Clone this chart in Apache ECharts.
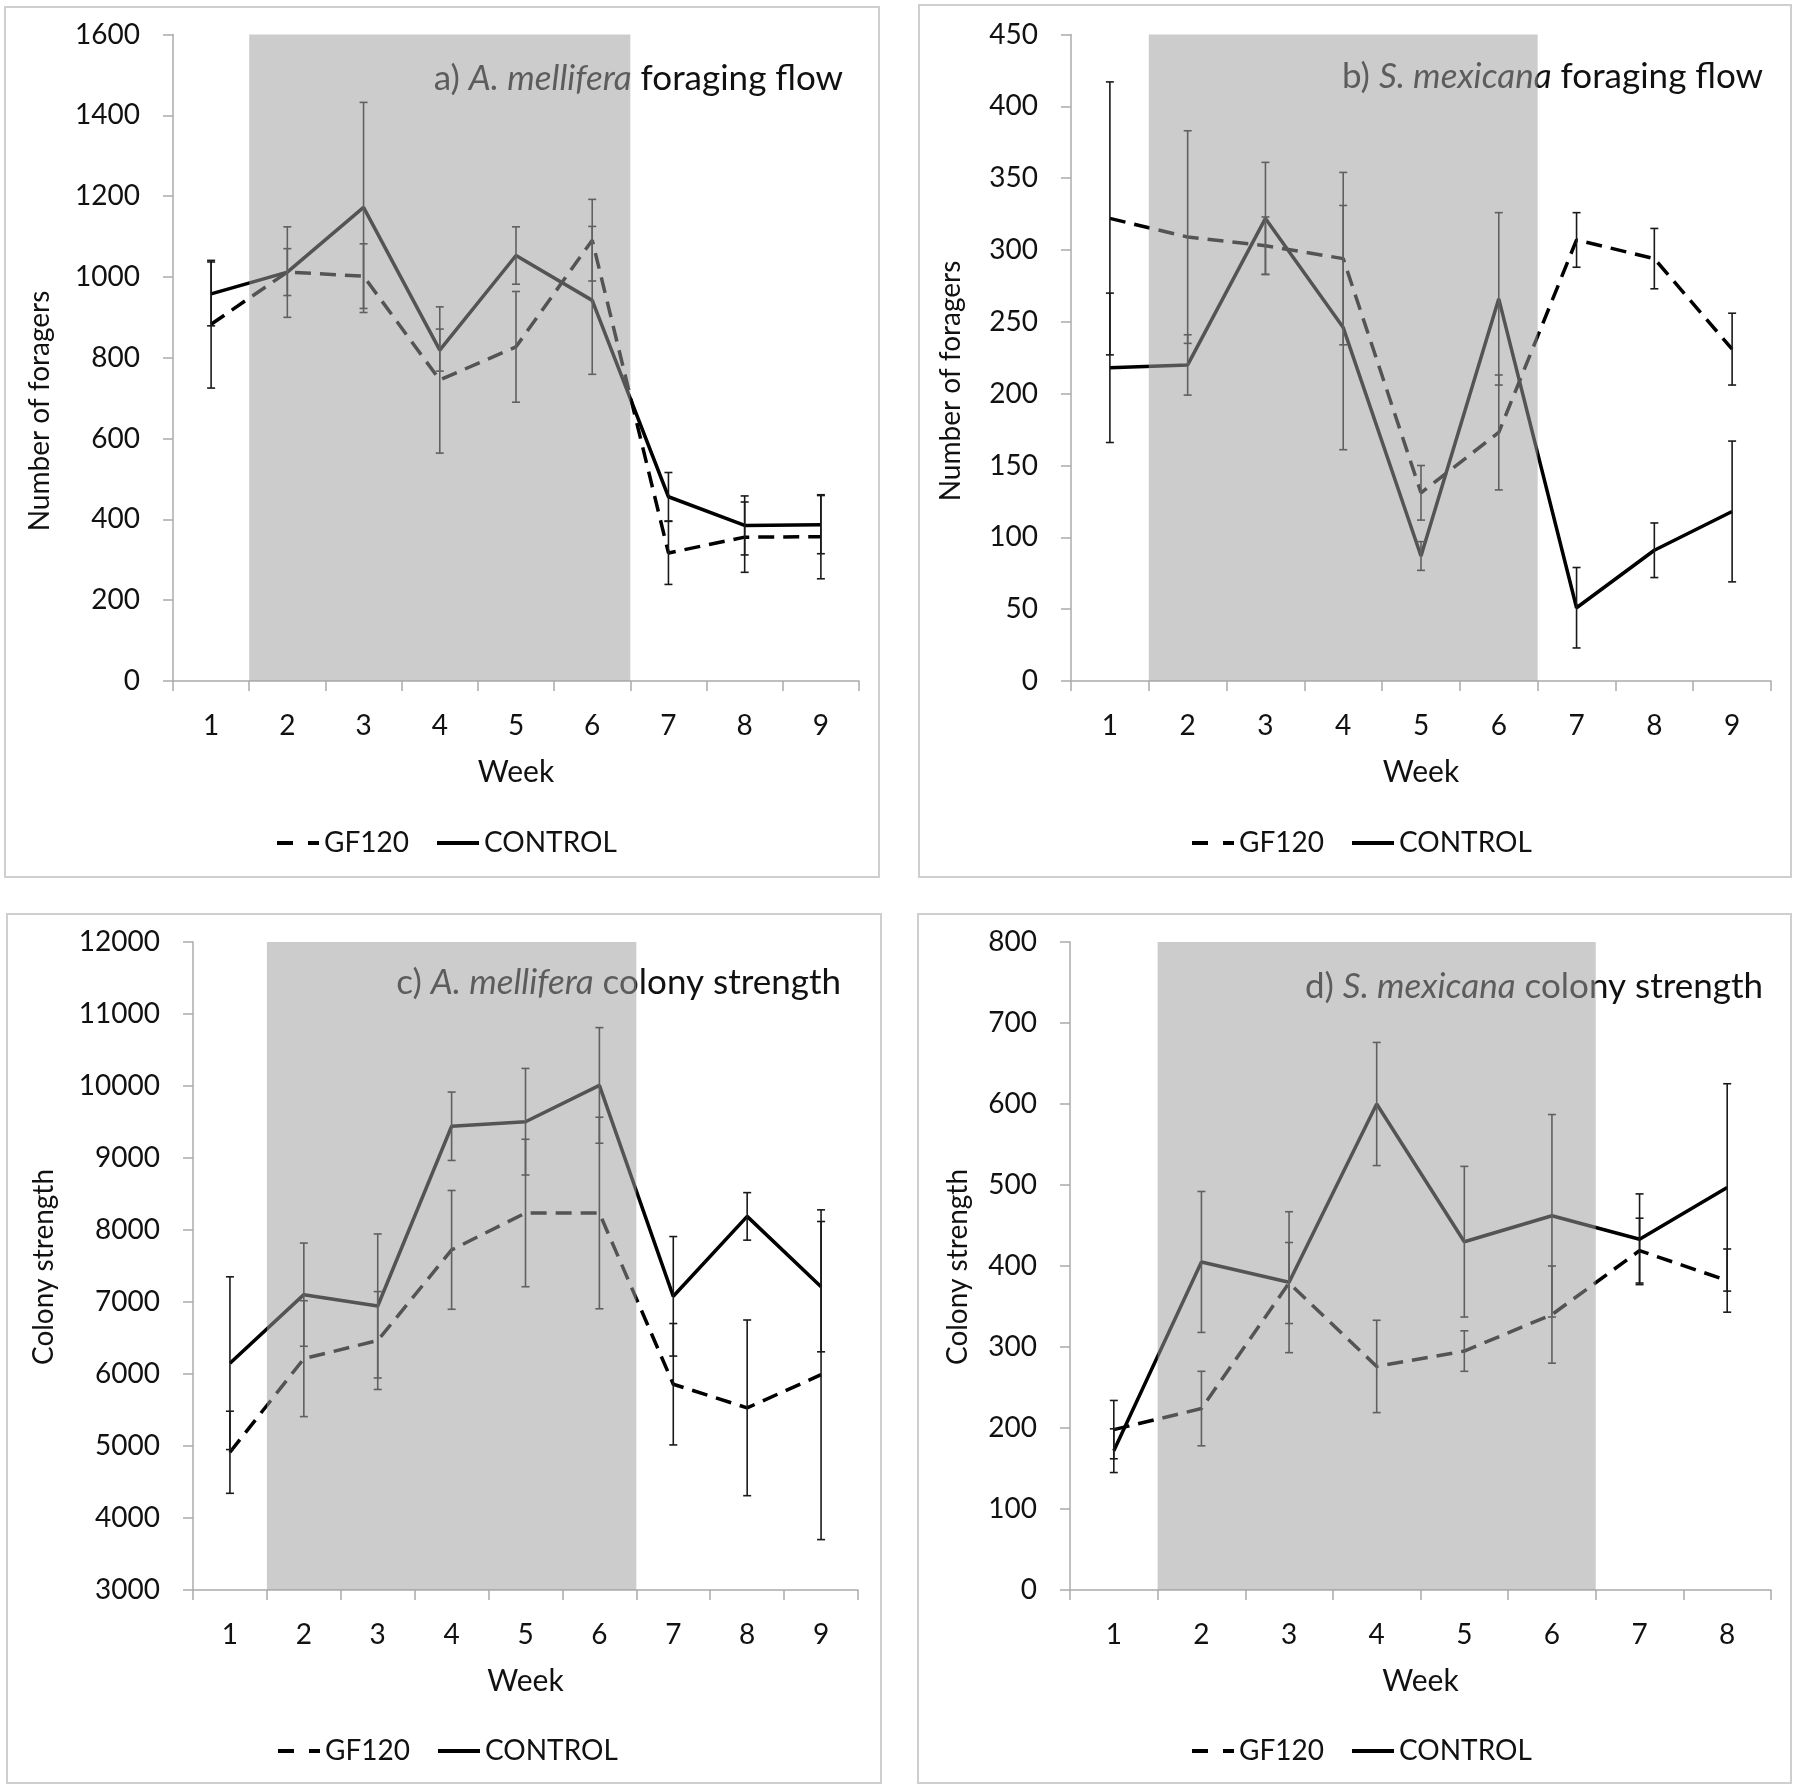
<!DOCTYPE html>
<html>
<head>
<meta charset="utf-8">
<script src="https://cdn.jsdelivr.net/npm/echarts@6/dist/echarts.min.js"></script>
<style>
html,body{margin:0;padding:0;background:#fff;}
#chart{width:1797px;height:1790px;}
</style>
</head>
<body>
<div id="chart"></div>
<script>
// ---------- DATA ----------
const weeks9 = ['1','2','3','4','5','6','7','8','9'];
const weeks8 = ['1','2','3','4','5','6','7','8'];
const seriesNames = ['GF120', 'CONTROL'];
const shadedWeeks = ['2', '6'];   // first and last week of the shaded (treatment) period

// a) A. mellifera foraging flow
const aGF120 = [883, 1012, 1002, 745, 827, 1091, 317, 356, 357];
const aGF120Err = [158, 58, 80, 181, 137, 101, 78, 87, 104];
const aControl = [958, 1012, 1172, 819, 1053, 942, 456, 385, 387];
const aControlErr = [79, 112, 260, 52, 71, 183, 60, 73, 72];

// b) S. mexicana foraging flow
const bGF120 = [322, 309, 303, 294, 131, 173, 307, 294, 231];
const bGF120Err = [95, 74, 20, 60, 19, 40, 19, 21, 25];
const bControl = [218, 220, 322, 246, 87, 266, 51, 91, 118];
const bControlErr = [52, 21, 39, 85, 10, 60, 28, 19, 49];

// c) A. mellifera colony strength
const cGF120 = [4913, 6213, 6465, 7724, 8236, 8236, 5858, 5530, 5990];
const cGF120Err = [570, 805, 680, 825, 1024, 1330, 843, 1220, 2290];
const cControl = [6150, 7102, 6945, 9441, 9504, 10008, 7079, 8189, 7213];
const cControlErr = [1200, 717, 1000, 475, 740, 803, 830, 330, 905];

// d) S. mexicana colony strength
const dGF120 = [198, 224, 379, 276, 295, 340, 419, 382];
const dGF120Err = [36, 46, 50, 57, 25, 60, 40, 39];
const dControl = [172, 405, 380, 600, 430, 462, 433, 497];
const dControlErr = [27, 87, 87, 76, 93, 125, 56, 128];

// axis settings
const yRanges = [[0, 1600, 200], [0, 450, 50], [3000, 12000, 1000], [0, 800, 100]];
const yNames = ['Number of foragers', 'Number of foragers', 'Colony strength', 'Colony strength'];
const xName = 'Week';
const titleParts = [
  ['a) ', 'A. mellifera', ' foraging flow'],
  ['b) ', 'S. mexicana', ' foraging flow'],
  ['c) ', 'A. mellifera', ' colony strength'],
  ['d) ', 'S. mexicana', ' colony strength']
];

// ---------- LAYOUT ----------
const FONT = 'Lato';
const TXT = '#111';
const AXIS = '#ababab';
const grids = [
  {left: 173, top: 34.5, width: 686, height: 646.5},
  {left: 1071, top: 34.5, width: 700, height: 646.5},
  {left: 193, top: 942, width: 665, height: 648},
  {left: 1070, top: 942, width: 701, height: 648}
];
const panelBoxes = [
  [5, 7, 874, 870], [919, 5, 872, 872], [7, 914, 874, 869], [918, 914, 873, 869]
];
const yNamePos = [[40, 411], [951, 381], [43.5, 1267], [958, 1267]];
const titlePos = [[843, 79], [1763, 77], [841, 983], [1763, 987]];
const legendPos = [[277, 829], [1192, 829], [278, 1737], [1192, 1737]];
const legendIcons = ['path://M0,0H16V4H0ZM31,0H42V4H31Z', 'path://M0,0H42V4H0Z'];

const panels = [
  {cats: weeks9, gf: aGF120, gfe: aGF120Err, c: aControl, ce: aControlErr},
  {cats: weeks9, gf: bGF120, gfe: bGF120Err, c: bControl, ce: bControlErr},
  {cats: weeks9, gf: cGF120, gfe: cGF120Err, c: cControl, ce: cControlErr},
  {cats: weeks8, gf: dGF120, gfe: dGF120Err, c: dControl, ce: dControlErr}
];

function errRender(params, api) {
  const x = api.value(0), v = api.value(1), e = api.value(2);
  const t = api.coord([x, v + e]);
  const b = api.coord([x, v - e]);
  const cw = 4;
  const st = {stroke: '#1a1a1a', lineWidth: 1.6};
  return {type: 'group', children: [
    {type: 'line', shape: {x1: t[0], y1: t[1], x2: b[0], y2: b[1]}, style: st},
    {type: 'line', shape: {x1: t[0] - cw, y1: t[1], x2: t[0] + cw, y2: t[1]}, style: st},
    {type: 'line', shape: {x1: b[0] - cw, y1: b[1], x2: b[0] + cw, y2: b[1]}, style: st}
  ]};
}

function shadeRender(params, api) {
  const cs = params.coordSys;
  const s = api.value(0), e = api.value(1);
  const bw = api.size([1, 0])[0];
  const x1 = api.coord([s, 0])[0] - bw / 2;
  const x2 = api.coord([e, 0])[0] + bw / 2;
  return {type: 'rect', shape: {x: x1, y: cs.y, width: x2 - x1, height: cs.height},
          style: {fill: 'rgba(159,159,159,0.53)'}};
}

const xAxis = [], yAxis = [], series = [], legend = [], graphic = [];
panels.forEach((p, k) => {
  xAxis.push({
    type: 'category', gridIndex: k, data: p.cats, boundaryGap: true,
    name: xName, nameLocation: 'middle', nameGap: 76,
    nameTextStyle: {fontFamily: FONT, fontSize: 30, color: TXT},
    axisLine: {lineStyle: {color: AXIS, width: 1.5}},
    axisTick: {show: true, length: 10, lineStyle: {color: AXIS, width: 1.5}},
    axisLabel: {margin: 31, fontFamily: FONT, fontSize: 28, color: TXT},
    splitLine: {show: false}
  });
  const r = yRanges[k];
  yAxis.push({
    type: 'value', gridIndex: k, min: r[0], max: r[1], interval: r[2],
    axisLine: {show: true, lineStyle: {color: AXIS, width: 1.5}},
    axisTick: {show: true, length: 10, lineStyle: {color: AXIS, width: 1.5}},
    axisLabel: {margin: 33, fontFamily: FONT, fontSize: 28, color: TXT,
                formatter: function (v) { return String(v); }},
    splitLine: {show: false}
  });
  series.push({
    type: 'line', name: seriesNames[0], xAxisIndex: k, yAxisIndex: k, data: p.gf,
    symbol: 'none', z: 2,
    lineStyle: {color: '#000', width: 3.5, type: [16, 9]}, itemStyle: {color: '#000'}
  });
  series.push({
    type: 'line', name: seriesNames[1], xAxisIndex: k, yAxisIndex: k, data: p.c,
    symbol: 'none', z: 2,
    lineStyle: {color: '#000', width: 3.5, type: 'solid'}, itemStyle: {color: '#000'}
  });
  series.push({
    type: 'custom', name: 'errGF' + k, xAxisIndex: k, yAxisIndex: k, z: 3, silent: true,
    data: p.gf.map((v, i) => [i, v, p.gfe[i]]), encode: {x: 0, y: 1},
    renderItem: errRender
  });
  series.push({
    type: 'custom', name: 'errC' + k, xAxisIndex: k, yAxisIndex: k, z: 3, silent: true,
    data: p.c.map((v, i) => [i, v, p.ce[i]]), encode: {x: 0, y: 1},
    renderItem: errRender
  });
  series.push({
    type: 'custom', name: 'shade' + k, xAxisIndex: k, yAxisIndex: k, z: 10, silent: true,
    data: [[p.cats.indexOf(shadedWeeks[0]), p.cats.indexOf(shadedWeeks[1])]],
    encode: {x: 0},
    renderItem: shadeRender
  });
  legend.push({
    data: seriesNames.map((n, i) => ({name: n, icon: legendIcons[i]})),
    left: legendPos[k][0], top: legendPos[k][1], orient: 'horizontal', padding: 0,
    itemWidth: 42, itemHeight: 4, itemGap: 28, selectedMode: false,
    itemStyle: {color: '#000', borderWidth: 0},
    textStyle: {fontFamily: FONT, fontSize: 28, color: TXT}
  });
  const b = panelBoxes[k];
  graphic.push({type: 'rect', z: 0, shape: {x: b[0], y: b[1], width: b[2], height: b[3]},
    style: {fill: 'none', stroke: '#cfcfcf', lineWidth: 2}});
  graphic.push({type: 'text', z: 0, x: yNamePos[k][0], y: yNamePos[k][1], rotation: Math.PI / 2,
    style: {text: yNames[k], font: '28px ' + FONT, fontSize: 28, fontFamily: FONT, fill: TXT,
      align: 'center', verticalAlign: 'middle', textAlign: 'center', textVerticalAlign: 'middle'}});
  const tp = titleParts[k];
  graphic.push({type: 'text', z: 0, x: titlePos[k][0], y: titlePos[k][1],
    style: {text: '{n|' + tp[0] + '}{i|' + tp[1] + '}{n|' + tp[2] + '}',
      align: 'right', verticalAlign: 'middle', textAlign: 'right', textVerticalAlign: 'middle',
      rich: {
        n: {fontFamily: FONT, fontSize: 35, fill: TXT, color: TXT},
        i: {fontFamily: FONT, fontSize: 35, fontStyle: 'italic', fill: TXT, color: TXT}
      }}});
});

const chart = echarts.init(document.getElementById('chart'), null, {renderer: 'canvas'});
chart.setOption({
  animation: false,
  backgroundColor: '#fff',
  textStyle: {fontFamily: FONT},
  grid: grids,
  xAxis: xAxis,
  yAxis: yAxis,
  legend: legend,
  graphic: graphic,
  series: series
});
</script>
</body>
</html>
